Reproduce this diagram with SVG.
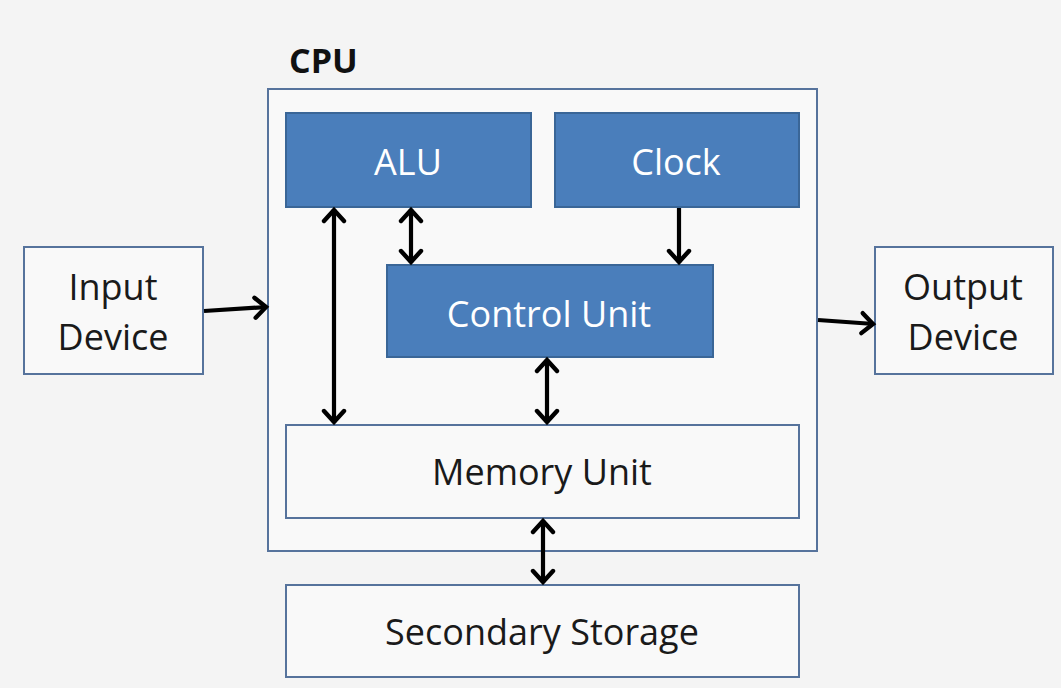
<svg xmlns="http://www.w3.org/2000/svg" width="1061" height="688" viewBox="0 0 1061 688">
  <style>
    .bg { fill: #f4f4f4; }
    .wbox { fill: #f9f9f9; stroke: #56739c; stroke-width: 2; }
    .bbox { fill: #4a7ebb; stroke: #3a6697; stroke-width: 2; }
    .lbl { font-family: "Open Sans", "Liberation Sans", sans-serif; font-size: 36px; text-anchor: middle; }
    .dark { fill: #1a1a1a; }
    .light { fill: #ffffff; }
    .title { font-family: "Open Sans", "Liberation Sans", sans-serif; font-size: 34px; font-weight: bold; fill: #111111; }
    .conn { stroke: #000000; stroke-width: 4.2; fill: none; }
  </style>
  <defs>
    <marker id="arr" markerUnits="userSpaceOnUse" markerWidth="20" markerHeight="26" viewBox="0 0 20 26" refX="16" refY="13" orient="auto-start-reverse">
      <path d="M4,3 L15,13 L4,23" fill="none" stroke="#000000" stroke-width="4.4" stroke-linecap="round" stroke-linejoin="miter"/>
    </marker>
  </defs>
  <rect class="bg" x="0" y="0" width="1061" height="688"/>

  <g id="cpu">
    <rect class="wbox" x="268" y="89" width="549" height="462"/>
    <text class="title" x="289" y="73">CPU</text>
  </g>
  <g id="alu">
    <rect class="bbox" x="286" y="113" width="245" height="94"/>
    <text class="lbl light" x="408" y="175">ALU</text>
  </g>
  <g id="clock">
    <rect class="bbox" x="555" y="113" width="244" height="94"/>
    <text class="lbl light" x="676" y="175">Clock</text>
  </g>
  <g id="control-unit">
    <rect class="bbox" x="387" y="265" width="326" height="92"/>
    <text class="lbl light" x="549" y="327">Control Unit</text>
  </g>
  <g id="memory-unit">
    <rect class="wbox" x="286" y="425" width="513" height="93"/>
    <text class="lbl dark" x="542" y="485">Memory Unit</text>
  </g>
  <g id="secondary-storage">
    <rect class="wbox" x="286" y="585" width="513" height="92"/>
    <text class="lbl dark" x="542" y="645">Secondary Storage</text>
  </g>
  <g id="input-device">
    <rect class="wbox" x="24" y="247" width="179" height="127"/>
    <text class="lbl dark" x="113" y="300">Input</text>
    <text class="lbl dark" x="113" y="350">Device</text>
  </g>
  <g id="output-device">
    <rect class="wbox" x="875" y="247" width="178" height="127"/>
    <text class="lbl dark" x="963" y="300">Output</text>
    <text class="lbl dark" x="963" y="350">Device</text>
  </g>

  <g id="connectors">
    <line class="conn" x1="204" y1="311" x2="267" y2="307" marker-end="url(#arr)"/>
    <line class="conn" x1="818" y1="320" x2="874" y2="324" marker-end="url(#arr)"/>
    <line class="conn" x1="334" y1="209" x2="334" y2="423" marker-start="url(#arr)" marker-end="url(#arr)"/>
    <line class="conn" x1="411" y1="209" x2="411" y2="263" marker-start="url(#arr)" marker-end="url(#arr)"/>
    <line class="conn" x1="679" y1="208" x2="679" y2="263" marker-end="url(#arr)"/>
    <line class="conn" x1="547" y1="359" x2="547" y2="423" marker-start="url(#arr)" marker-end="url(#arr)"/>
    <line class="conn" x1="543" y1="520" x2="543" y2="583" marker-start="url(#arr)" marker-end="url(#arr)"/>
  </g>
</svg>
